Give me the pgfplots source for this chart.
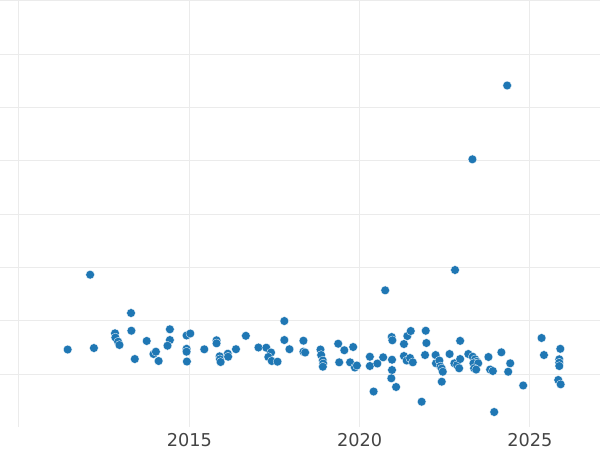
\documentclass[border=0pt]{standalone}
\usepackage{fontspec}
\setmainfont{DejaVu Sans}
\usepackage{pgfplots}
\pgfplotsset{compat=1.18}
\definecolor{ptblue}{HTML}{1F77B4}
\definecolor{gridc}{HTML}{EBEBEB}
\definecolor{labc}{HTML}{444444}

\begin{document}
\begin{tikzpicture}
    \begin{axis}[
        scale only axis,
        width=600pt, height=426.7pt,
        xmin=2009.444, xmax=2027.055,
        ymin=0.019, ymax=8.014,
        axis line style={draw=none},
        tick style={draw=none},
        xtick={2010,2015,2020,2025},
        xticklabels={,2015,2020,2025},
        ytick={1,2,3,4,5,6,7,8},
        yticklabels={},
        grid=major,
        major grid style={gridc, line width=1pt},
        /pgf/number format/assume math mode=true,
        xticklabel style={font=\fontsize{17.7}{20}\selectfont, text=labc,
            inner sep=0pt, anchor=north, yshift=-6.3pt},
        clip=false,
      ]
        \addplot[only marks, mark=*, mark size=4.4pt,
            mark options={fill=ptblue, draw=white, line width=0.3pt}] coordinates {
            (2011.43,1.465) (2012.20,1.493) (2012.09,2.867) (2012.82,1.769)
            (2012.83,1.690) (2012.91,1.611) (2012.95,1.550) (2013.29,2.149)
            (2013.30,1.817) (2013.40,1.287) (2013.75,1.625) (2013.95,1.381)
            (2014.02,1.424) (2014.10,1.250) (2014.43,1.844) (2014.43,1.643)
            (2014.36,1.536) (2014.92,1.728) (2015.03,1.765) (2014.92,1.478)
            (2014.92,1.424) (2014.93,1.240) (2015.44,1.469) (2015.80,1.638)
            (2015.80,1.581) (2015.89,1.338) (2015.90,1.282) (2015.92,1.231)
            (2016.13,1.387) (2016.14,1.330) (2016.37,1.471) (2016.66,1.722)
            (2017.03,1.503) (2017.26,1.499) (2017.40,1.409) (2017.32,1.325)
            (2017.42,1.250) (2017.59,1.237) (2017.79,1.999) (2017.79,1.643)
            (2017.94,1.471) (2018.35,1.630) (2018.35,1.424) (2018.40,1.409)
            (2018.85,1.465) (2018.87,1.362) (2018.92,1.259) (2018.93,1.203)
            (2018.92,1.143) (2019.37,1.574) (2019.40,1.225) (2019.55,1.452)
            (2019.72,1.225) (2019.81,1.512) (2019.86,1.128) (2019.92,1.165)
            (2020.30,1.330) (2020.30,1.156) (2020.41,0.678) (2020.52,1.203)
            (2020.69,1.319) (2020.75,2.574) (2020.94,1.699) (2020.96,1.638)
            (2020.95,1.274) (2020.95,1.081) (2020.93,0.926) (2021.07,0.763)
            (2021.30,1.568) (2021.30,1.343) (2021.40,1.718) (2021.50,1.812)
            (2021.38,1.259) (2021.48,1.306) (2021.56,1.225) (2021.82,0.487)
            (2021.92,1.362) (2021.94,1.817) (2021.96,1.587) (2022.23,1.362)
            (2022.24,1.207) (2022.34,1.259) (2022.37,1.147) (2022.41,1.109)
            (2022.44,1.049) (2022.41,0.862) (2022.64,1.381) (2022.80,2.955)
            (2022.78,1.207) (2022.86,1.175) (2022.92,1.113) (2022.95,1.287)
            (2022.95,1.628) (2023.19,1.381) (2023.32,1.330) (2023.39,1.282)
            (2023.44,1.237) (2023.34,1.207) (2023.48,1.207) (2023.36,1.113)
            (2023.42,1.090) (2023.31,5.029) (2023.78,1.325) (2023.83,1.090)
            (2023.91,1.062) (2023.95,0.294) (2024.16,1.413) (2024.42,1.207)
            (2024.36,1.049) (2024.80,0.791) (2024.33,6.412) (2025.34,1.681)
            (2025.41,1.362) (2025.89,1.478) (2025.86,1.282) (2025.86,1.218)
            (2025.86,1.156) (2025.83,0.894) (2025.90,0.813)
        };
    \end{axis}
    \pgfresetboundingbox
    \useasboundingbox (0pt,-23.3pt) rectangle (600pt,426.7pt);
\end{tikzpicture}
\end{document}
